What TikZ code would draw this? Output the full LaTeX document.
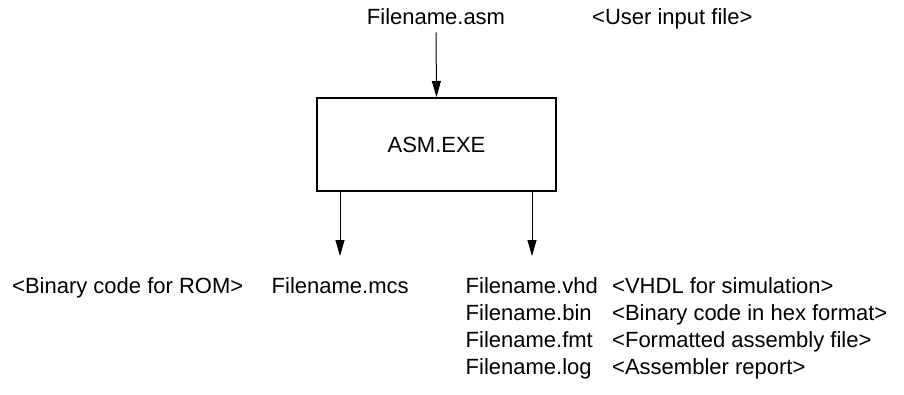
\documentclass[tikz,border=0pt]{standalone}
\usepackage{fontspec}
\setmainfont{Liberation Sans}
\usetikzlibrary{arrows.meta}
\begin{document}
\begin{tikzpicture}[x=1pt,y=-1pt,
		txt/.style={inner sep=0pt,font=\fontsize{22}{26}\selectfont},
		prog/.style={draw,line width=2pt,minimum width=239pt,minimum height=93pt,inner sep=0pt,font=\fontsize{22}{26}\selectfont},
		arr/.style={line width=1pt,-{Triangle[length=16pt,width=9pt]}}]
	\useasboundingbox (0,0) rectangle (904,394);
	% input
	\node[txt,anchor=base] (asm) at (436,24) {Filename.asm};
	\node[txt,anchor=base west] (user) at (592,24) {<User input file>};
	\node[prog] (exe) at (436.5,144.5) {ASM.EXE};
	\draw[arr] ([yshift=-8pt]asm.south) -- (exe.north);
	% outputs
	\coordinate (L) at (340,256);
	\coordinate (R) at (532,256);
	\draw[arr] (exe.south -| L) -- (L);
	\draw[arr] (exe.south -| R) -- (R);
	\node[txt,anchor=base west] (rom) at (12,293) {<Binary code for ROM>};
	\node[txt,anchor=base west] (mcs) at (271.5,293) {Filename.mcs};
	\node[txt,anchor=base west] (vhd) at (465.5,293) {Filename.vhd};
	\node[txt,anchor=base west] (bin) at (465.5,320) {Filename.bin};
	\node[txt,anchor=base west] (fmt) at (465.5,347) {Filename.fmt};
	\node[txt,anchor=base west] (log) at (465.5,374) {Filename.log};
	\node[txt,anchor=base west] (sim) at (612,293) {<VHDL for simulation>};
	\node[txt,anchor=base west] (hex) at (612,320) {<Binary code in hex format>};
	\node[txt,anchor=base west] (ffile) at (612,347) {<Formatted assembly file>};
	\node[txt,anchor=base west] (rep) at (612,374) {<Assembler report>};
\end{tikzpicture}
\end{document}
